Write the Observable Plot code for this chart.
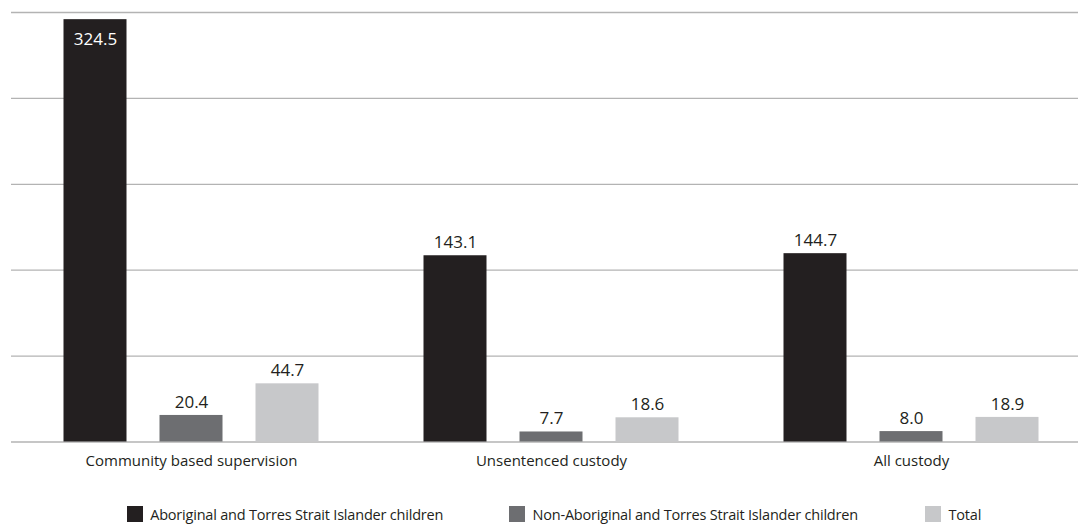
<!DOCTYPE html>
<html>
<head>
<meta charset="utf-8">
<script src="https://cdn.jsdelivr.net/npm/d3@7"></script>
<script src="https://cdn.jsdelivr.net/npm/@observablehq/plot@0.6"></script>
<style>
  html, body { margin: 0; padding: 0; background: #fff; overflow: hidden; }
  #wrap { position: relative; width: 1078px; height: 525px; font-family: "Open Sans", sans-serif; color: #231f20; }
  #legend { position: absolute; top: 504.5px; left: 0; width: 1078px; height: 20px; font-size: 14.5px; letter-spacing: -0.2px; }
  .item { position: absolute; top: 0; display: flex; align-items: center; white-space: nowrap; }
  .sw { width: 16px; height: 16px; margin-right: 7.5px; }
</style>
</head>
<body>
<div id="wrap">
  <div id="chart"></div>
  <div id="legend"></div>
</div>
<script>
const categories = ["Community based supervision", "Unsentenced custody", "All custody"];
const series = [
  "Aboriginal and Torres Strait Islander children",
  "Non-Aboriginal and Torres Strait Islander children",
  "Total"
];
const indigenous = [324.5, 143.1, 144.7];
const nonIndigenous = [20.4, 7.7, 8.0];
const total = [44.7, 18.6, 18.9];
const colors = ["#231f20", "#6d6e71", "#c7c8ca"];
const gridTicks = [0, 66, 132, 198, 264, 330];
const legendLeft = [126.7, 509, 925];

const valuesBySeries = [indigenous, nonIndigenous, total];
const data = [];
categories.forEach((c, i) => {
  series.forEach((s, j) => {
    data.push({category: c, series: s, value: valuesBySeries[j][i]});
  });
});

const fontFamily = "'Open Sans', sans-serif";

const chart = Plot.plot({
  width: 1078,
  height: 490,
  marginTop: 12,
  marginBottom: 48.5,
  marginLeft: 10.5,
  marginRight: -12.5,
  style: {fontFamily, background: "transparent", overflow: "visible"},
  fx: {domain: categories, padding: 0, label: null},
  x: {domain: series, paddingInner: 0.34375, paddingOuter: 0.546875, axis: null},
  y: {domain: [0, 330], axis: null},
  color: {domain: series, range: colors},
  marks: [
    Plot.ruleY(gridTicks, {stroke: "#b3b3b3", strokeWidth: 1.3}),
    Plot.barY(data, {fx: "category", x: "series", y: "value", fill: "series"}),
    Plot.text(data.filter(d => d.value < 300), {
      fx: "category", x: "series", y: "value",
      text: d => d.value.toFixed(1), dy: -13, fontSize: 17, fill: "#231f20",
      letterSpacing: -0.3
    }),
    Plot.text(data.filter(d => d.value >= 300), {
      fx: "category", x: "series", y: "value",
      text: d => d.value.toFixed(1), dy: 20, fontSize: 17, fill: "white",
      letterSpacing: -0.3
    }),
    Plot.axisFx({anchor: "bottom", tickSize: 0, tickPadding: 13.5, fontSize: 15, label: null, fill: "#231f20"})
  ]
});
document.getElementById("chart").appendChild(chart);

const legend = document.getElementById("legend");
series.forEach((s, i) => {
  const item = document.createElement("div");
  item.className = "item";
  item.style.left = legendLeft[i] + "px";
  const sw = document.createElement("div");
  sw.className = "sw";
  sw.style.background = colors[i];
  const label = document.createElement("span");
  label.textContent = s;
  item.appendChild(sw);
  item.appendChild(label);
  legend.appendChild(item);
});
</script>
</body>
</html>
